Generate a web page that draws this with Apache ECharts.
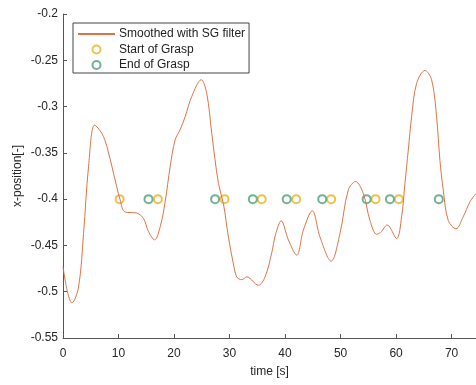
<!DOCTYPE html>
<html>
<head>
<meta charset="utf-8">
<script src="https://cdn.jsdelivr.net/npm/echarts@6/dist/echarts.min.js"></script>
<style>
  html, body { margin: 0; padding: 0; background: #fff; }
  #chart { width: 476px; height: 385px; }
</style>
</head>
<body>
<div id="chart"></div>
<script>
// smoothed x-position over time
var timeS = [0, 0.8, 1.6, 2.8, 3.7, 4.6, 5.7, 7.0, 7.9, 9.1, 10.3, 11.2, 13.3, 14.5, 15.4, 16.5, 17.5, 18.4, 19.3, 20.2,
             21.1, 22.0, 23.2, 24.9, 25.9, 26.8, 28.0, 28.9, 29.8, 30.7, 31.3, 32.2, 33.1, 35.2, 36.4, 37.6, 38.3, 39.3,
             40.6, 42.1, 43.3, 44.9, 46.3, 48.3, 49.9, 51.4, 52.7, 54.1, 55.3, 56.5, 57.2, 58.4, 60.1, 61.0, 61.6, 62.2,
             62.8, 63.7, 65.2, 66.4, 67.3, 67.9, 68.5, 69.4, 70.8, 72.1, 73.3, 74.4];
var xPos = [-0.473, -0.500, -0.512, -0.495, -0.437, -0.365, -0.320, -0.329, -0.343, -0.372, -0.401, -0.414, -0.415, -0.421, -0.435, -0.444, -0.430, -0.403, -0.365, -0.336,
            -0.325, -0.311, -0.289, -0.271, -0.286, -0.329, -0.383, -0.405, -0.441, -0.470, -0.484, -0.487, -0.484, -0.493, -0.484, -0.458, -0.438, -0.4235,
            -0.444, -0.4605, -0.4335, -0.4126, -0.441, -0.467, -0.437, -0.390, -0.381, -0.394, -0.423, -0.438, -0.436, -0.428, -0.4425, -0.419, -0.383, -0.347,
            -0.311, -0.275, -0.261, -0.271, -0.311, -0.358, -0.390, -0.423, -0.432, -0.419, -0.403, -0.394];

var startT = [10.2, 17.1, 29.1, 35.8, 42.0, 48.3, 56.3, 60.5];
var endT = [15.4, 27.4, 34.2, 40.3, 46.7, 54.7, 58.9, 67.7];
var graspLevel = -0.4;

var yTicks = [-0.55, -0.5, -0.45, -0.4, -0.35, -0.3, -0.25, -0.2];

function pairs(xs, ys) {
  return xs.map(function (x, i) { return [x, Array.isArray(ys) ? ys[i] : ys]; });
}

var font = '"Liberation Sans", Arial, sans-serif';
var lineColor = '#DF7346';
var startColor = '#EDB120';
var endColor = '#4F9F7B';

var option = {
  animation: false,
  backgroundColor: '#fff',
  grid: { left: 63, right: 0, top: 14, bottom: 47 },
  legend: {
    orient: 'vertical',
    left: 73,
    top: 23,
    padding: [5, 4, 2, 4],
    itemGap: 3.5,
    itemWidth: 37,
    itemHeight: 8,
    borderColor: '#444',
    borderWidth: 1,
    backgroundColor: '#fff',
    textStyle: { fontFamily: font, fontSize: 12, color: '#222', padding: [0, 0, 0, -1] },
    data: [
      { name: 'Smoothed with SG filter', itemStyle: { opacity: 0 } },
      'Start of Grasp',
      'End of Grasp'
    ]
  },
  xAxis: {
    type: 'value',
    min: 0,
    max: 74.4,
    interval: 10,
    name: 'time [s]',
    nameLocation: 'middle',
    nameGap: 28,
    nameMoveOverlap: false,
    nameTextStyle: { fontFamily: font, fontSize: 12, color: '#262626' },
    axisLine: { lineStyle: { color: '#555', width: 1 } },
    axisTick: { inside: true, length: 4, lineStyle: { color: '#555' } },
    axisLabel: { fontFamily: font, fontSize: 12, color: '#262626', margin: 10, showMaxLabel: false },
    splitLine: { show: false }
  },
  yAxis: {
    type: 'value',
    min: yTicks[0],
    max: yTicks[yTicks.length - 1],
    interval: 0.05,
    name: 'x-position[-]',
    nameLocation: 'middle',
    nameGap: 39,
    nameMoveOverlap: false,
    nameTextStyle: { fontFamily: font, fontSize: 12, color: '#262626' },
    axisLine: { show: true, lineStyle: { color: '#555', width: 1 } },
    axisTick: { show: true, inside: true, length: 4, lineStyle: { color: '#555' } },
    axisLabel: {
      fontFamily: font, fontSize: 12, color: '#262626', margin: 5,
      formatter: function (v) { return String(parseFloat(v.toFixed(2))); }
    },
    splitLine: { show: false }
  },
  series: [
    {
      name: 'Smoothed with SG filter',
      type: 'line',
      data: pairs(timeS, xPos),
      smooth: 0.35,
      symbol: 'none',
      color: lineColor,
      lineStyle: { color: lineColor, width: 1 }
    },
    {
      name: 'Start of Grasp',
      type: 'scatter',
      data: pairs(startT, graspLevel),
      symbol: 'emptyCircle',
      symbolSize: 8,
      color: startColor,
      itemStyle: { color: startColor, borderColor: startColor, borderWidth: 0.9 }
    },
    {
      name: 'End of Grasp',
      type: 'scatter',
      data: pairs(endT, graspLevel),
      symbol: 'emptyCircle',
      symbolSize: 8,
      color: endColor,
      itemStyle: { color: endColor, borderColor: endColor, borderWidth: 0.9 }
    }
  ]
};

var myChart = echarts.init(document.getElementById('chart'));
myChart.setOption(option);
</script>
</body>
</html>
